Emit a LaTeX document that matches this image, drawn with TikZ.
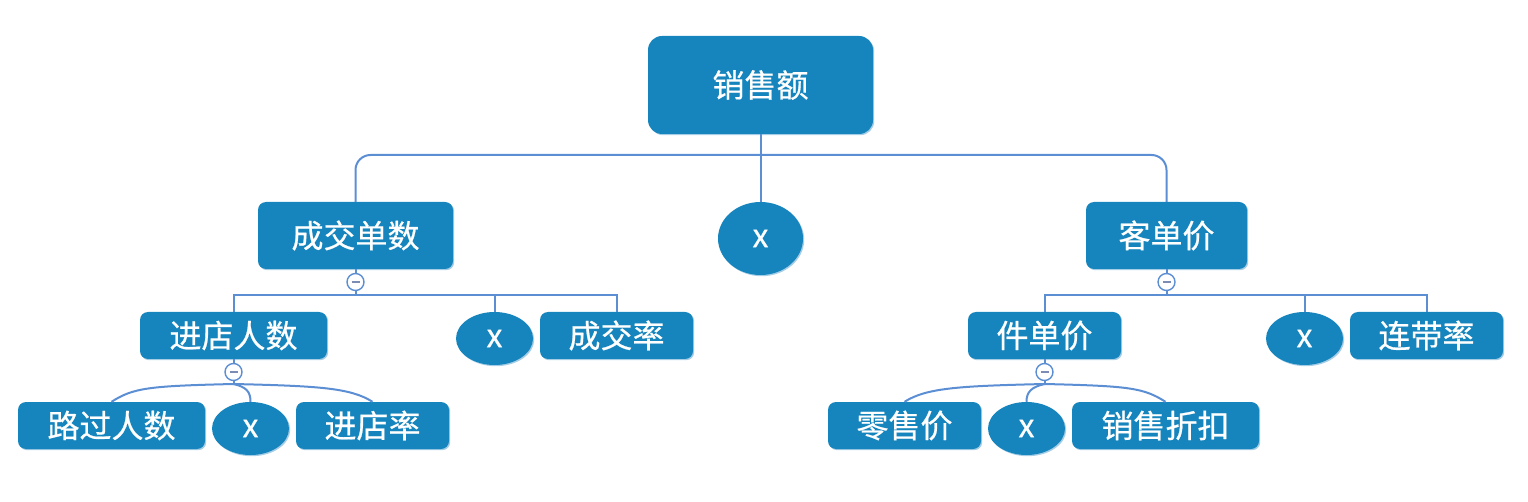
\documentclass[tikz,border=0pt]{standalone}
\usepackage{fontspec}
\setmainfont{Noto Sans CJK SC}
\newfontfamily\cjkfont{Noto Sans CJK SC}[FakeBold=0.6]
\usetikzlibrary{shapes.geometric}
\definecolor{boxblue}{RGB}{22,133,189}
\definecolor{edgeblue}{RGB}{165,205,230}
\definecolor{linkblue}{RGB}{92,142,212}
\definecolor{minusgray}{RGB}{125,140,180}
\newcommand{\bigfont}{\cjkfont\fontsize{32}{38}\selectfont}
\newcommand{\xmark}{\raisebox{-3pt}{x}}
\begin{document}
\begin{tikzpicture}[x=1pt,y=-1pt,
  edge/.style={preaction={fill=edgeblue, transform canvas={shift={(1.2pt,-1.2pt)}}}},
  box/.style={rectangle, rounded corners=8pt, fill=boxblue, text=white, inner sep=0pt, font=\bigfont, edge},
  oval/.style={ellipse, fill=boxblue, text=white, inner sep=0pt, font=\bigfont, edge},
  sz/.style 2 args={minimum width=#1pt, minimum height=#2pt},
  conn/.style={draw=linkblue, line width=2pt},
  minus/.style={circle, draw=linkblue, fill=white, line width=1.4pt, minimum size=17pt, inner sep=0pt,
    path picture={\draw[minusgray, line width=2pt] ([xshift=-4pt]path picture bounding box.center) -- ([xshift=4pt]path picture bounding box.center);}}
]
\useasboundingbox (0,0) rectangle (1528,502);

% nodes
\node[box, sz={225}{98}, rounded corners=14pt] (root) at (760.5,85) {销售额};
\node[box, sz={195}{67}] (b1) at (355.5,235.5) {成交单数};
\node[oval, sz={85}{73}] (ex0) at (760.5,238.5) {\xmark};
\node[box, sz={161}{67}] (b2) at (1166.5,235.5) {客单价};

\node[box, sz={187}{47}] (c1) at (233.5,335.5) {进店人数};
\node[oval, sz={77}{53}] (ex1) at (494.5,338.5) {\xmark};
\node[box, sz={153}{47}] (c2) at (616.5,335.5) {成交率};
\node[box, sz={153}{47}] (c3) at (1044.5,335.5) {件单价};
\node[oval, sz={77}{53}] (ex2) at (1304.5,338.5) {\xmark};
\node[box, sz={153}{47}] (c4) at (1426.5,335.5) {连带率};

\node[box, sz={187}{47}] (d1) at (111.5,425.5) {路过人数};
\node[oval, sz={77}{53}] (ex3) at (250.5,428.5) {\xmark};
\node[box, sz={153}{47}] (d2) at (372.5,425.5) {进店率};
\node[box, sz={153}{47}] (d3) at (904.5,425.5) {零售价};
\node[oval, sz={77}{53}] (ex4) at (1026.5,428.5) {\xmark};
\node[box, sz={187}{47}] (d4) at (1165.5,425.5) {销售折扣};

% minus markers
\node[minus] (m1) at (355.5,282) {};
\node[minus] (m2) at (1166.5,282) {};
\node[minus] (m3) at (233.5,372) {};
\node[minus] (m4) at (1044.5,372) {};

% level 1 connectors
\coordinate (j0) at (760.5,155);
\draw[conn, rounded corners=15pt] (b1.north) -- (b1.north |- j0) -- (b2.north |- j0) -- (b2.north);
\draw[conn] (root.south) -- (ex0.north);

% level 2 connectors
\draw[conn] (b1.south) -- (m1.north);
\draw[conn] (b2.south) -- (m2.north);
\coordinate (j1) at (355.5,295);
\coordinate (j2) at (1166.5,295);
\draw[conn] (m1.south) -- (j1);
\draw[conn] (m2.south) -- (j2);
\draw[conn] (c1.north) -- (c1.north |- j1) -- (c2.north |- j1) -- (c2.north);
\draw[conn] (ex1.north) -- (ex1.north |- j1);
\draw[conn] (c3.north) -- (c3.north |- j2) -- (c4.north |- j2) -- (c4.north);
\draw[conn] (ex2.north) -- (ex2.north |- j2);

% level 3 connectors
\draw[conn] (c1.south) -- (m3.north);
\draw[conn] (c3.south) -- (m4.north);
\coordinate (k1) at (233.5,384);
\coordinate (k2) at (1044.5,384);
\draw[conn] (m3.south) -- (k1);
\draw[conn] (m4.south) -- (k2);
\draw[conn] (k1) .. controls +(-85,2) and +(22,-14) .. (d1.north);
\draw[conn] (k1) .. controls +(13,3) and +(0,-10) .. (ex3.north);
\draw[conn] (k1) .. controls +(85,2) and +(-22,-14) .. (d2.north);
\draw[conn] (k2) .. controls +(-85,2) and +(22,-14) .. (d3.north);
\draw[conn] (k2) .. controls +(-13,3) and +(0,-10) .. (ex4.north);
\draw[conn] (k2) .. controls +(85,2) and +(-22,-14) .. (d4.north);
\end{tikzpicture}
\end{document}
